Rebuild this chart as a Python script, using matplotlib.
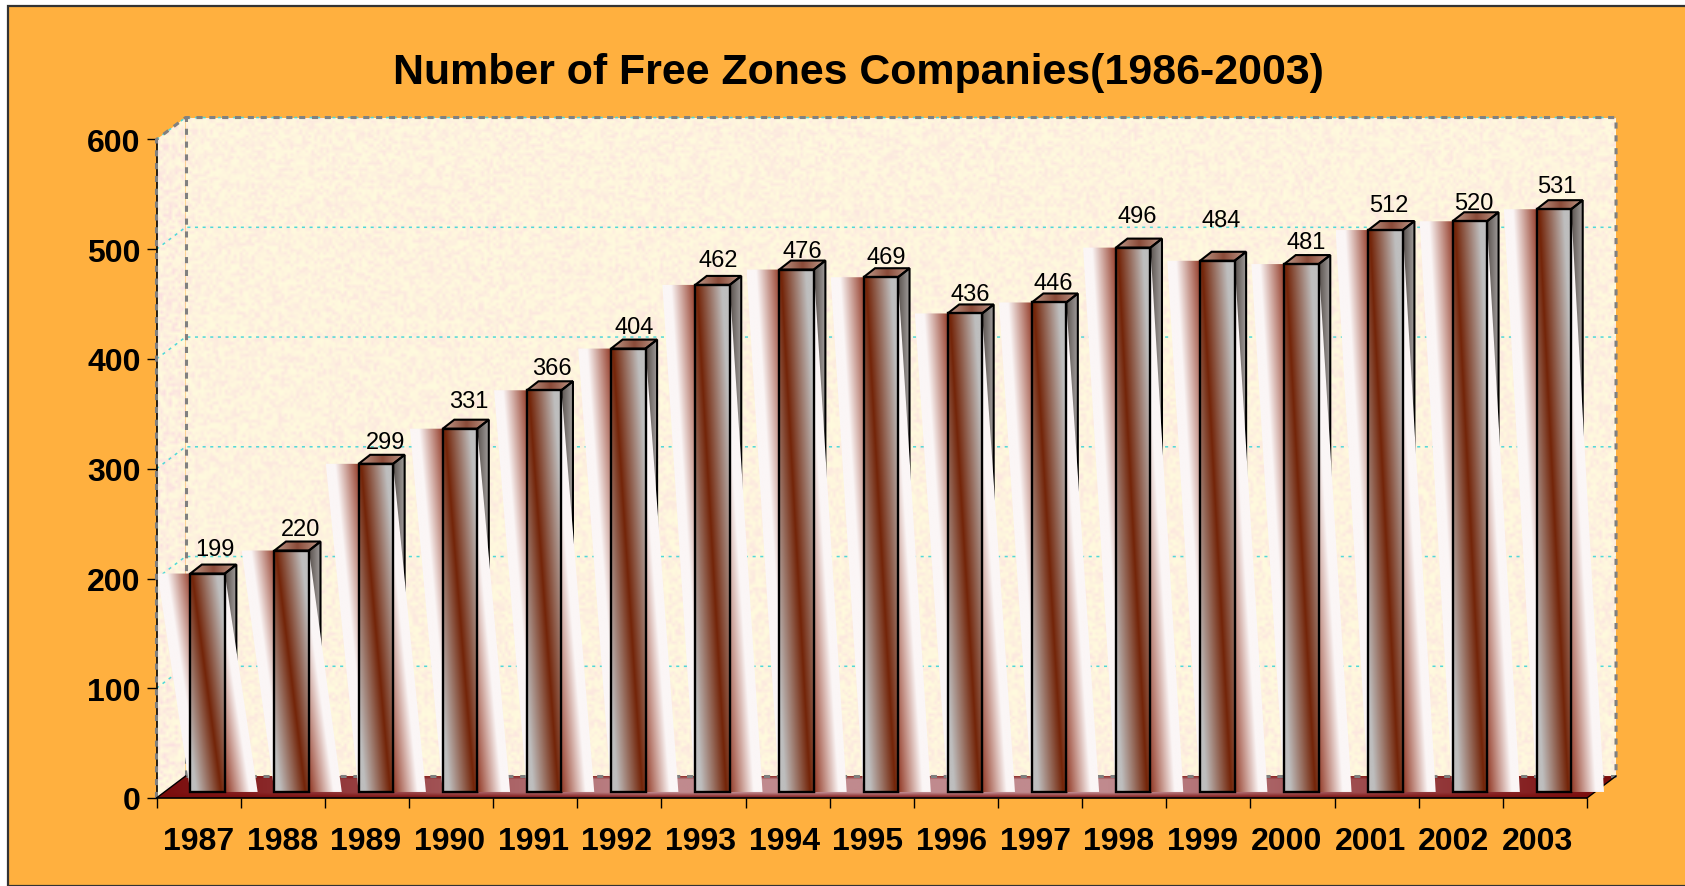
import numpy as np
from matplotlib import pyplot as plt
from matplotlib.colors import to_rgb
from matplotlib.patches import Polygon, Rectangle

years = [1987, 1988, 1989, 1990, 1991, 1992, 1993, 1994, 1995, 1996, 1997,
         1998, 1999, 2000, 2001, 2002, 2003]
companies = [199, 220, 299, 331, 366, 404, 462, 476, 469, 436, 446,
             496, 484, 481, 512, 520, 531]
# how far each number sits above its bar, in value units
label_gaps = [22, 20, 20, 25, 20, 20, 23, 17, 18, 18, 18, 29, 37, 20, 23, 17, 21]
label_shift = [0.09, 0.10, 0.11, 0.10, 0.09, 0.07, 0.07, 0.07, 0.06, 0.06,
               0.05, 0.05, 0.05, 0.05, 0.04, 0.05, 0.03]
y_ticks = [0, 100, 200, 300, 400, 500, 600]

ORANGE = '#FFB03F'
BROWN = to_rgb('#732408')
GREY = to_rgb('#BEBEBE')
WHITE = to_rgb('#FFFFFF')

W, H = 1685, 887
AX_L, AX_R, AX_T, AX_B = 156.5, 1587, 140.5, 799

# depth of the 3d box and of the bars, in data units
DX, DY = 0.345, 20.0
BAR_W, BAR_SHIFT, BAR_LIFT = 0.41, 0.107, 5.5
BAR_DX, BAR_DY = 0.137, 8.2
SHADOW_W = 0.39

fig = plt.figure(figsize=(W / 100, H / 100), dpi=100, facecolor='white')
plt.rcParams['font.family'] = ['Liberation Sans', 'DejaVu Sans']
fig.add_artist(Rectangle((8 / W, 0), 1, 1 - 7 / H, transform=fig.transFigure,
                         facecolor=ORANGE, edgecolor='#333333', linewidth=1.6, zorder=-1))

ax = fig.add_axes([AX_L / W, 1 - AX_B / H, (AX_R - AX_L) / W, (AX_B - AX_T) / H])
ax.patch.set_visible(False)


def lerp(a, b, t):
    t = np.clip(t, 0, 1)[..., None]
    return np.array(a) * (1 - t) + np.array(b) * t


def paint(img, x0, x1, y0, y1, poly, z):
    patch = Polygon(poly, closed=True, transform=ax.transData, facecolor='none',
                    edgecolor='none')
    ax.add_patch(patch)
    im = ax.imshow(img, extent=(x0, x1, y0, y1), origin='lower', aspect='auto',
                   interpolation='bilinear', zorder=z)
    im.set_clip_path(patch)
    im.set_clip_box(fig.bbox)


def grid_uv(x0, x1, y0, y1, nx=60, ny=200):
    xs = np.linspace(x0, x1, nx)
    ys = np.linspace(y0, y1, ny)
    return np.meshgrid(xs, ys)


def wall_texture(nx, ny, contrast):
    # speckled paper look from a sine hash, only a background pattern
    yy, xx = np.mgrid[0:ny, 0:nx]
    t = np.sin(xx * 12.9898 + yy * 78.233) * 43758.5453
    t = (t - np.floor(t)) ** 1.5
    return lerp(to_rgb('#FFFBDD'), to_rgb('#FBDFE0'), t * contrast)


x_l, x_r = -0.5, 16.5
ax.set_xlim(x_l, x_r)
ax.set_ylim(0, 600)

# back wall and left wall
paint(wall_texture(480, 220, 0.75), x_l + DX, x_r + DX, DY, 600 + DY,
      [(x_l + DX, DY), (x_r + DX, DY), (x_r + DX, 600 + DY), (x_l + DX, 600 + DY)], 1)
paint(wall_texture(10, 225, 1.0), x_l, x_l + DX, 0, 600 + DY,
      [(x_l, 0), (x_l + DX, DY), (x_l + DX, 600 + DY), (x_l, 600)], 1)

# grid on both walls
for v in y_ticks[1:]:
    ax.plot([x_l, x_l + DX, x_r + DX], [v, v + DY, v + DY], color='#4FD8D8', lw=1.1,
            ls=(0, (2, 3)), zorder=2, clip_on=False)

# floor: dark ends, pink middle, darker front lip
fx, fy = grid_uv(x_l, x_r + DX, 0, DY, 400, 40)
ends = np.clip(np.minimum((fx - x_l) / 6.0, (x_r + DX - fx) / 6.0), 0, 1)
depth = fy / DY
lip = np.clip((depth - 0.05) / 0.2, 0, 1) * np.clip((1.0 - depth) / 0.15, 0, 1)
ft = ends * (0.25 + 0.75 * lip)
paint(lerp(to_rgb('#7A0C0C'), to_rgb('#C08A8E'), ft), x_l, x_r + DX, 0, DY,
      [(x_l, 0), (x_l + DX, DY), (x_r + DX, DY), (x_r, 0)], 3)

# dashed outline of the box
ax.plot([x_l, x_l, x_l + DX, x_r + DX, x_r + DX], [0, 600, 600 + DY, 600 + DY, DY],
        color='#808080', lw=2.2, ls=(0, (2, 2.2)), zorder=2.5, clip_on=False)
ax.plot([x_l + DX, x_l + DX], [DY, 600 + DY], color='#808080', lw=2.2,
        ls=(0, (2, 2.2)), zorder=2.5, clip_on=False)
ax.plot([x_l + DX, x_r + DX], [DY, DY], color='#808080', lw=2.2,
        ls=(0, (2, 2.2)), zorder=3.5, clip_on=False)

for i, (year, val) in enumerate(zip(years, companies)):
    z = 5
    b0 = i - BAR_W / 2 + BAR_SHIFT
    b1 = b0 + BAR_W
    base = BAR_LIFT
    top = BAR_LIFT + val

    # side face
    sx, sy = grid_uv(b1, b1 + BAR_DX, base, top + BAR_DY, 12, 60)
    side = lerp(to_rgb('#5C5450'), to_rgb('#A09C9A'), (sx - b1) / BAR_DX)
    side_poly = [(b1, base), (b1 + BAR_DX, base + BAR_DY),
                 (b1 + BAR_DX, top + BAR_DY), (b1, top)]
    paint(side, b1, b1 + BAR_DX, base, top + BAR_DY, side_poly, z)
    ax.add_patch(Polygon(side_poly, closed=True, fill=False, edgecolor='black', lw=1.5,
                         zorder=z + 0.1, clip_on=False))

    # top face
    top_poly = [(b0, top), (b1, top), (b1 + BAR_DX, top + BAR_DY), (b0 + BAR_DX, top + BAR_DY)]
    tx, ty = grid_uv(b0, b1 + BAR_DX, top, top + BAR_DY, 40, 10)
    top_img = lerp(to_rgb('#8A4A38'), to_rgb('#C09C8C'),
                   np.abs((tx - b0) / (b1 + BAR_DX - b0) - 0.5) * 2)
    paint(top_img, b0, b1 + BAR_DX, top, top + BAR_DY, top_poly, z)
    ax.add_patch(Polygon(top_poly, closed=True, fill=False, edgecolor='black', lw=1.5,
                         zorder=z + 0.1, clip_on=False))

    # slanted light band behind the bar
    s0, s1 = b0 - SHADOW_W, b1 + SHADOW_W
    gx, gy = grid_uv(s0, s1, base, top, 160, 240)
    v = (top - gy) / val
    left = s0 + SHADOW_W * v
    u = (gx - left) / (BAR_W + SHADOW_W)
    shadow = lerp((0.56, 0.20, 0.12), to_rgb('#FBF6F6'), np.abs(u - 0.5) * 2 / 0.74)
    paint(shadow, s0, s1, base, top,
          [(s0, top), (b1, top), (s1, base), (b0, base)], z + 0.2)

    # front face
    gx, gy = grid_uv(b0, b1, base, top)
    u = (gx - b0) / BAR_W
    v = (top - gy) / val
    front = lerp(BROWN, GREY, np.abs(u - (0.05 + 0.85 * v)) / 0.72)
    paint(front, b0, b1, base, top, [(b0, base), (b1, base), (b1, top), (b0, top)], z + 0.3)
    ax.add_patch(Rectangle((b0, base), BAR_W, val, fill=False, edgecolor='black', lw=1.7,
                           zorder=z + 0.4, clip_on=False))

    ax.text(i + BAR_SHIFT + label_shift[i], top + label_gaps[i], str(val), ha='center',
            va='center', fontsize=17, color='black', zorder=8, clip_on=False)

ax.set_xlim(x_l, x_r)
ax.set_ylim(0, 600)

for side in ['top', 'right']:
    ax.spines[side].set_visible(False)
ax.spines['left'].set_linewidth(1.2)
ax.spines['bottom'].set_linewidth(1.2)
ax.spines['left'].set_zorder(2.2)
ax.spines['bottom'].set_zorder(4)

# floor edges going into the depth
ax.plot([x_l, x_l + DX], [0, DY], color='black', lw=1, zorder=4, clip_on=False)
ax.plot([x_r, x_r + DX], [0, DY], color='black', lw=1, zorder=4, clip_on=False)

ax.set_yticks(y_ticks)
ax.set_xticks(np.arange(-0.5, 17, 1))
ax.set_xticklabels([])
ax.set_xticks(np.arange(17) * 0.9944, labels=[str(y) for y in years], minor=True)
ax.tick_params(axis='x', which='major', length=7.5, width=1, pad=0)
ax.tick_params(axis='x', which='minor', length=0, pad=20)
ax.tick_params(axis='y', length=7.5, width=1, pad=4)
for lab in ax.get_xticklabels(minor=True) + ax.get_yticklabels():
    lab.set_fontsize(23)
    lab.set_fontweight('bold')
    lab.set_color('black')

fig.text(858 / W, 1 - 73 / H, 'Number of Free Zones Companies(1986-2003)', ha='center',
         va='center', fontsize=30.9, fontweight='bold', color='black')

fig.savefig('out.png', dpi=100, facecolor=fig.get_facecolor())
